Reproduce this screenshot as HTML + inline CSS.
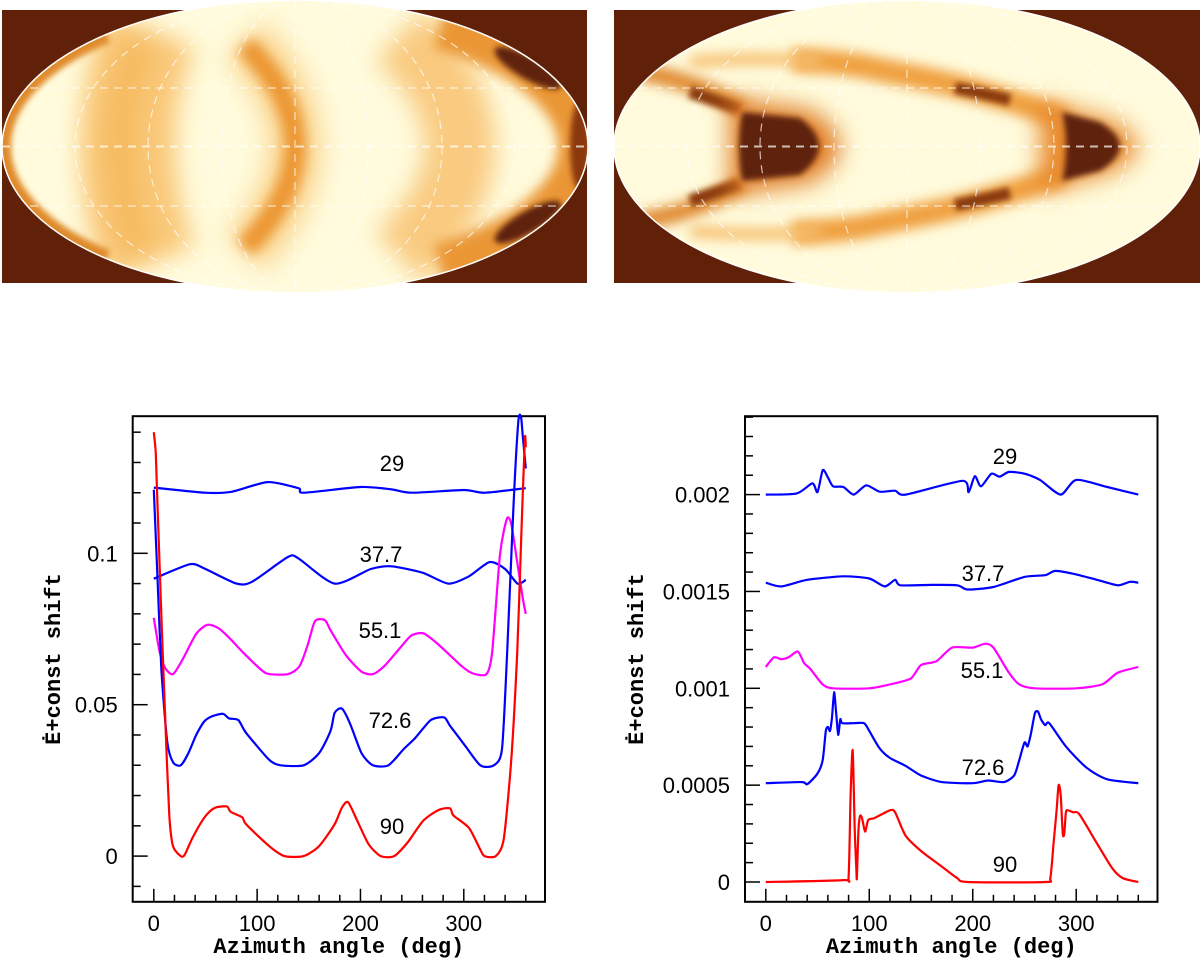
<!DOCTYPE html>
<html><head><meta charset="utf-8"><style>
html,body{margin:0;padding:0;background:#fff;}
svg{display:block;}
.tk{font-family:"Liberation Sans",sans-serif;font-size:22px;fill:#000;}
.ttl{font-family:"Liberation Mono",monospace;font-size:22px;font-weight:bold;fill:#000;}
</style></head><body>
<svg id="fig" width="1200" height="964" viewBox="0 0 1200 964" xmlns="http://www.w3.org/2000/svg">
<defs>
<clipPath id="cl1"><ellipse cx="295" cy="146.5" rx="293" ry="146.5"/></clipPath>
<clipPath id="cl2"><ellipse cx="907" cy="146.5" rx="293" ry="146.5"/></clipPath>
<filter id="b3" filterUnits="userSpaceOnUse" x="0" y="0" width="1200" height="300"><feGaussianBlur stdDeviation="3"/></filter>
<filter id="b6" filterUnits="userSpaceOnUse" x="0" y="0" width="1200" height="300"><feGaussianBlur stdDeviation="6"/></filter>
<filter id="b12" filterUnits="userSpaceOnUse" x="0" y="0" width="1200" height="300"><feGaussianBlur stdDeviation="12"/></filter>
</defs>

<!-- Left sky map -->
<g>
<rect x="2" y="10" width="585" height="273" fill="#612109"/>
<ellipse cx="295" cy="146.5" rx="293" ry="146.5" fill="#fffbdc"/>
<g clip-path="url(#cl1)">
<path d="M150 30 Q105 146 150 263" stroke="#f9c878" stroke-width="95" fill="none" filter="url(#b12)"/>
<path d="M140 40 Q100 146 140 253" stroke="#f4b050" stroke-width="30" fill="none" filter="url(#b12)" opacity="0.6"/>
<path d="M245 40 Q345 146 245 253" stroke="#fbd896" stroke-width="55" fill="none" filter="url(#b12)"/>
<path d="M245 45 Q345 146 245 248" stroke="#ec9630" stroke-width="22" fill="none" filter="url(#b6)"/>
<path d="M400 35 Q520 146 400 258" stroke="#f9ca80" stroke-width="70" fill="none" filter="url(#b12)"/>
<path d="M106.6 34.3 A293 146.5 0 0 0 106.6 258.7" stroke="#e08a2a" stroke-width="18" fill="none" filter="url(#b3)"/>
<path d="M441.5 19.6 A293 146.5 0 0 1 441.5 273.4" stroke="#ea9634" stroke-width="60" fill="none" filter="url(#b6)"/>
<ellipse cx="528" cy="68" rx="38" ry="11" transform="rotate(30 528 68)" fill="#5e2208" filter="url(#b3)"/>
<ellipse cx="528" cy="222" rx="38" ry="11" transform="rotate(-30 528 222)" fill="#5e2208" filter="url(#b3)"/>
<ellipse cx="580" cy="146" rx="10" ry="45" fill="#8a380a" filter="url(#b3)"/>
</g>
<ellipse cx="295" cy="146.5" rx="293" ry="146.5" fill="none" stroke="#fff" stroke-width="1.5"/>
<g stroke="#fff" stroke-opacity="0.7" fill="none" stroke-dasharray="8 6" stroke-width="1.2">
<line x1="2" y1="146.5" x2="588" y2="146.5" stroke-width="2"/>
<line x1="30" y1="88" x2="560" y2="88"/><line x1="30" y1="206" x2="560" y2="206"/>
<line x1="295" y1="0" x2="295" y2="293"/>
<ellipse cx="295" cy="146.5" rx="73" ry="146.5"/><ellipse cx="295" cy="146.5" rx="147" ry="146.5"/><ellipse cx="295" cy="146.5" rx="220" ry="146.5"/>
</g>
</g>

<!-- Right sky map -->
<g>
<rect x="614" y="10" width="586" height="273" fill="#612109"/>
<ellipse cx="907" cy="146.5" rx="293" ry="146.5" fill="#fffbdc"/>
<g clip-path="url(#cl2)">
<path d="M792 60 Q850 62 880 70 Q960 85 990 95 Q1030 105 1065 120" stroke="#f0a040" stroke-width="24" fill="none" filter="url(#b6)"/>
<path d="M792 233 Q850 231 880 223 Q960 208 990 198 Q1030 188 1065 173" stroke="#f0a040" stroke-width="24" fill="none" filter="url(#b6)"/>
<path d="M955 88 Q990 95 1010 100" stroke="#8a3a10" stroke-width="12" fill="none" filter="url(#b3)"/>
<path d="M955 205 Q990 198 1010 193" stroke="#8a3a10" stroke-width="12" fill="none" filter="url(#b3)"/>
<path d="M1040 100 L1110 120 Q1165 146 1110 173 L1040 193 Z" fill="#e8882a" filter="url(#b12)"/>
<path d="M1062 112 L1100 122 Q1140 146 1100 171 L1062 181 Q1070 146 1062 112 Z" fill="#5e2208" filter="url(#b3)"/>
<path d="M640 72 Q700 82 745 110" stroke="#e08a30" stroke-width="18" fill="none" filter="url(#b6)"/>
<path d="M640 221 Q700 211 745 183" stroke="#e08a30" stroke-width="18" fill="none" filter="url(#b6)"/>
<path d="M690 92 Q715 100 740 110" stroke="#8a3a10" stroke-width="12" fill="none" filter="url(#b3)"/>
<path d="M690 201 Q715 193 740 183" stroke="#8a3a10" stroke-width="12" fill="none" filter="url(#b3)"/>
<path d="M730 98 L810 110 Q870 146 810 183 L730 195 Z" fill="#e07a20" filter="url(#b12)"/>
<path d="M742 112 L800 118 Q838 146 800 175 L742 181 Q736 146 742 112 Z" fill="#5e2208" filter="url(#b3)"/>
<path d="M690 62 Q760 56 820 62" stroke="#f6c070" stroke-width="12" fill="none" filter="url(#b6)"/>
<path d="M690 231 Q760 237 820 231" stroke="#f6c070" stroke-width="12" fill="none" filter="url(#b6)"/>
</g>
<ellipse cx="907" cy="146.5" rx="293" ry="146.5" fill="none" stroke="#fff" stroke-width="1.5"/>
<g stroke="#fff" stroke-opacity="0.7" fill="none" stroke-dasharray="8 6" stroke-width="1.2">
<line x1="614" y1="146.5" x2="1200" y2="146.5" stroke-width="2"/>
<line x1="640" y1="88" x2="1175" y2="88"/><line x1="640" y1="206" x2="1175" y2="206"/>
<line x1="907" y1="0" x2="907" y2="293"/>
<ellipse cx="907" cy="146.5" rx="73" ry="146.5"/><ellipse cx="907" cy="146.5" rx="147" ry="146.5"/><ellipse cx="907" cy="146.5" rx="220" ry="146.5"/>
</g>
</g>

<g id="plots"></g>
</svg>
<script>
// ---- Left chart data (degrees, values) ----
const left29Deg = [0,50,75,110,140,145,200,230,250,300,320,360];
const left29Val = [0.1217,0.120,0.1203,0.1235,0.1215,0.120,0.1219,0.1211,0.120,0.1209,0.120,0.1215];
const left377Deg = [0,35,50,80,95,130,140,175,210,230,260,285,305,325,340,352,360];
const left377Val = [0.0916,0.0964,0.0948,0.090,0.0906,0.0988,0.0983,0.090,0.0948,0.0957,0.0936,0.090,0.0924,0.0971,0.0948,0.090,0.0912];
const left551Deg = [0,5.6,11,18.6,28,41,52,63,74.4,85.6,104,111.7,130,141,149,156,165.6,171,186,201,212,223,238,249,260.5,271.6,283,298,309,322,327.5,335,341.7,346,351.7,357,360];
const left551Val = [0.0787,0.0675,0.0621,0.0601,0.065,0.0734,0.0764,0.0752,0.0716,0.0675,0.0615,0.0601,0.0601,0.0627,0.0698,0.0776,0.0779,0.0746,0.0663,0.0609,0.0601,0.0627,0.0686,0.0728,0.0736,0.071,0.0675,0.0627,0.0603,0.0601,0.0675,0.0995,0.1114,0.1096,0.0971,0.0853,0.080];
const left726Deg = [0,3.7,7.4,13,18.6,26,33.5,41,48.4,55.8,67,72.6,81.9,89.3,111.7,122.8,145,160,171,175,182,190,201,212,227,242,253,268,281,286.6,301,316,329,337,342,348,352.8,355.4,357,360];
const left726Val = [0.121,0.091,0.0615,0.0378,0.031,0.030,0.034,0.040,0.0443,0.0461,0.047,0.0455,0.0449,0.0407,0.0318,0.030,0.030,0.034,0.0413,0.0473,0.0487,0.0437,0.034,0.030,0.030,0.0354,0.039,0.0449,0.0458,0.0431,0.0366,0.030,0.030,0.0354,0.0675,0.115,0.1435,0.145,0.139,0.128];
const left90Deg = [0,1.9,3.7,7.4,11.2,14.9,18.6,26,29.8,37,44.7,52,59.5,70.7,74.4,85.6,89.3,111.7,126.5,145,160,175,182,188,197,208,219.6,232.6,245.6,260.5,275.4,286.6,290,305,316,320,331,338.7,346,351.7,355.4,359,360];
const left90Val = [0.140,0.133,0.115,0.079,0.044,0.014,0.0033,0,0.0004,0.0057,0.0105,0.014,0.016,0.0164,0.0146,0.0128,0.0105,0.0033,0,0,0.0033,0.0105,0.016,0.0178,0.0116,0.0039,0,0,0.0045,0.0116,0.0152,0.0158,0.0134,0.0093,0.0021,0,0,0.0057,0.032,0.067,0.103,0.1375,0.135];
const leftYTicks = [0,0.05,0.1];
const leftYTickLabels = ["0","0.05","0.1"];
const xTicks = [0,100,200,300];
const xTickLabels = ["0","100","200","300"];
// ---- Right chart data ----
const right29Deg = [0,30,45,50,55,60,65,75,85,97,110,125,135,190,196,202,208,218,226,235,250,265,285,300,330,360];
const right29Val = [0.002,0.002006,0.002058,0.002013,0.002126,0.002089,0.002043,0.002039,0.002,0.002048,0.002015,0.00202,0.002,0.002071,0.002013,0.002095,0.002043,0.002108,0.002093,0.002117,0.002108,0.002076,0.002,0.002076,0.002039,0.002];
const right377Deg = [0,15,40,75,100,115,125,130,160,185,195,220,250,270,280,300,320,340,352,360];
const right377Val = [0.001545,0.001526,0.00156,0.001578,0.001567,0.001526,0.00156,0.001532,0.001534,0.001532,0.00151,0.001523,0.001575,0.001584,0.001606,0.001588,0.00156,0.001532,0.00155,0.001545];
const right551Deg = [0,8,15,22,31,37,43,55,65,100,120,140,150,165,180,200,212,220,235,245,260,300,325,340,360];
const right551Val = [0.00111,0.00116,0.00115,0.00116,0.00119,0.00113,0.0011,0.00102,0.001,0.001,0.00102,0.00105,0.00112,0.00114,0.00121,0.00121,0.00123,0.00121,0.00108,0.00102,0.001,0.001,0.00102,0.00108,0.00111];
const right726Deg = [0,35,40,50,55,58,60,62,64,66,68,70,72,74,85,95,100,110,120,135,150,170,200,215,230,240,245,250,253,256,260,263,266,270,274,290,310,330,360];
const right726Val = [0.00051,0.000516,0.000505,0.00056,0.00063,0.00078,0.0008,0.00078,0.00085,0.00098,0.00087,0.00076,0.00084,0.00082,0.00082,0.00082,0.00078,0.00069,0.00064,0.0006,0.00055,0.000516,0.00051,0.000524,0.000516,0.00055,0.00063,0.00072,0.0007,0.00076,0.00087,0.00088,0.00084,0.00081,0.00082,0.0007,0.00059,0.00053,0.00051];
const right90Deg = [0,75,80,82,84,86,87.5,88,89.5,91,93,96,99,105,120,125,135,150,170,185,195,270,275,278,281,283,285,287,288.5,290,292,297,303,320,335,345,360];
const right90Val = [0,0.00001,0.00003,0.00045,0.00068,0.00026,0.00007,0.00002,0.00026,0.00034,0.00033,0.00026,0.00032,0.00033,0.00037,0.00036,0.00024,0.00016,0.00008,0.00002,0,0,0.00002,0.00019,0.00037,0.0005,0.00045,0.00025,0.00025,0.00036,0.00037,0.00036,0.00035,0.0002,0.00007,0.00002,0];
const rightYTicks = [0,0.0005,0.001,0.0015,0.002];
const rightYTickLabels = ["0","0.0005","0.001","0.0015","0.002"];

const NS = "http://www.w3.org/2000/svg";
const root = document.getElementById('plots');
function mk(tag, attrs, parent) {
  const e = document.createElementNS(NS, tag);
  for (const k in attrs) e.setAttribute(k, attrs[k]);
  (parent || root).appendChild(e);
  return e;
}

const L = {x0:132.7, x1:545, y0:416.2, y1:901.8,
  x: d => 153.8 + d*1.0333, y: v => 856.1 - v*3028,
  minor: 0.01, yMin: -0.01, yMax: 0.14, major: 0.05, name: 'left'};
const R = {x0:745, x1:1157.5, y0:416.2, y1:901.8,
  x: d => 765.8 + d*1.0347, y: v => 882 - v*193700,
  minor: 0.0001, yMin: 0, yMax: 0.0024, major: 0.0005, name: 'right'};

function drawAxes(P, yTicks, yLabels, ytitleX) {
  const g = mk('g', {});
  
  
  const box = mk('rect', {x:P.x0, y:P.y0, width:P.x1-P.x0, height:P.y1-P.y0, fill:'none', stroke:'#000', 'stroke-width':2}, g);
  
  
  for (let d = 0; d <= 360; d += 20) {
    const major = d % 100 === 0;
    const t = mk('line', {x1:P.x(d), x2:P.x(d), y1:P.y1, y2:P.y1-(major?13:7), stroke:'#000','stroke-width':1.5}, g);
    
    
  }
  xTicks.forEach((d, i) => {
    const t = mk('text', {x:P.x(d), y:931, 'text-anchor':'middle', class:'tk'}, g);
    t.textContent = xTickLabels[i];
    
    
  });
  const n = Math.round((P.yMax - P.yMin)/P.minor);
  for (let i = 0; i <= n; i++) {
    const v = P.yMin + i*P.minor;
    const yy = P.y(v);
    if (yy < P.y0 || yy > P.y1) continue;
    const major = Math.abs(v/P.major - Math.round(v/P.major)) < 1e-6;
    const t = mk('line', {x1:P.x0, x2:P.x0+(major?15:8), y1:yy, y2:yy, stroke:'#000','stroke-width':1.5}, g);
    
    
  }
  yTicks.forEach((v, i) => {
    const t = mk('text', {x:P.x0-15, y:P.y(v)+8, 'text-anchor':'end', class:'tk'}, g);
    t.textContent = yLabels[i];
    
    
  });
  const xt = mk('text', {x:(P.x0+P.x1)/2, y:953, 'text-anchor':'middle', class:'ttl'}, g);
  xt.textContent = 'Azimuth angle (deg)';
  
  
  const yt = mk('text', {x:ytitleX, y:659, 'text-anchor':'middle', class:'ttl', transform:'rotate(-90 '+ytitleX+' 659)'}, g);
  yt.textContent = 'Ė+const shift';
  
  
}

function drawSeries(P, degs, vals, color, name) {
  const p = degs.map((d, i) => [P.x(d), P.y(vals[i])]);
  let dstr = 'M' + p[0][0].toFixed(1) + ' ' + p[0][1].toFixed(1);
  for (let i = 0; i < p.length - 1; i++) {
    const p0 = p[i-1] || p[i], p1 = p[i], p2 = p[i+1], p3 = p[i+2] || p2;
    const t = 0.12;
    const c1 = [p1[0] + (p2[0]-p0[0])*t, p1[1] + (p2[1]-p0[1])*t];
    const c2 = [p2[0] - (p3[0]-p1[0])*t, p2[1] - (p3[1]-p1[1])*t];
    dstr += ' C' + c1[0].toFixed(1) + ' ' + c1[1].toFixed(1) + ' ' + c2[0].toFixed(1) + ' ' + c2[1].toFixed(1) + ' ' + p2[0].toFixed(1) + ' ' + p2[1].toFixed(1);
  }
  const pl = mk('path', {d:dstr, fill:'none', stroke:color, 'stroke-width':2.2, 'stroke-linejoin':'round'});
  
  
}
function label(x, y, txt, name) {
  const t = mk('text', {x:x, y:y, 'text-anchor':'middle', class:'tk'});
  t.textContent = txt;
  
  
}

drawAxes(L, leftYTicks, leftYTickLabels, 60);
drawAxes(R, rightYTicks, rightYTickLabels, 643);

drawSeries(L, left29Deg, left29Val, '#0000ff', 'left-curve-29');
drawSeries(L, left377Deg, left377Val, '#0000ff', 'left-curve-37-7');
drawSeries(L, left551Deg, left551Val, '#ff00ff', 'left-curve-55-1');
drawSeries(L, left726Deg, left726Val, '#0000ff', 'left-curve-72-6');
drawSeries(L, left90Deg, left90Val, '#ff0000', 'left-curve-90');
label(392, 471, '29', 'left-label-29');
label(381, 562, '37.7', 'left-label-37-7');
label(380, 638, '55.1', 'left-label-55-1');
label(390, 728, '72.6', 'left-label-72-6');
label(392, 834, '90', 'left-label-90');

drawSeries(R, right29Deg, right29Val, '#0000ff', 'right-curve-29');
drawSeries(R, right377Deg, right377Val, '#0000ff', 'right-curve-37-7');
drawSeries(R, right551Deg, right551Val, '#ff00ff', 'right-curve-55-1');
drawSeries(R, right726Deg, right726Val, '#0000ff', 'right-curve-72-6');
drawSeries(R, right90Deg, right90Val, '#ff0000', 'right-curve-90');
label(1005, 464, '29', 'right-label-29');
label(983, 581, '37.7', 'right-label-37-7');
label(982, 678, '55.1', 'right-label-55-1');
label(983, 775, '72.6', 'right-label-72-6');
label(1005, 872, '90', 'right-label-90');
</script>
</body></html>
